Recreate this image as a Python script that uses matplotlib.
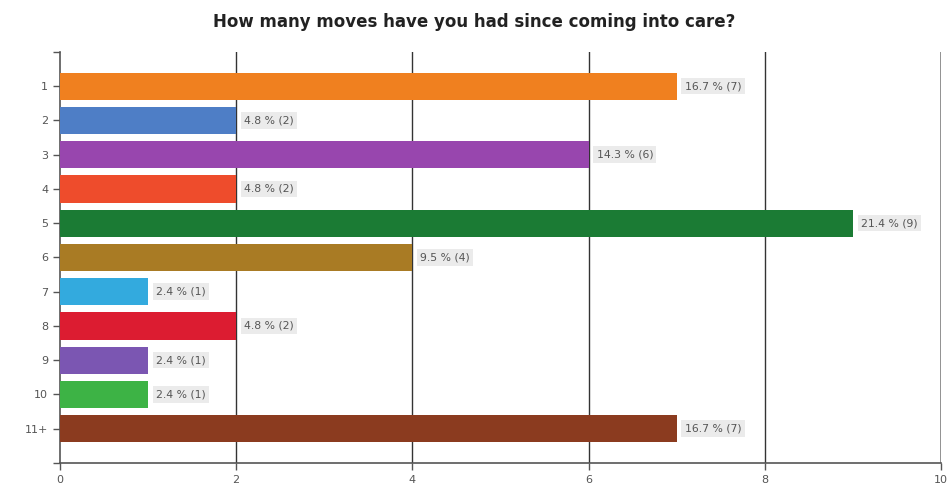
import matplotlib.pyplot as plt
import numpy as np

# Survey responses: number of placement moves
categories = ['1', '2', '3', '4', '5', '6', '7', '8', '9', '10', '11+']
counts = [7, 2, 6, 2, 9, 4, 1, 2, 1, 1, 7]
percents = [16.7, 4.8, 14.3, 4.8, 21.4, 9.5, 2.4, 4.8, 2.4, 2.4, 16.7]
colors = ['#f0801f', '#4e7ec6', '#9846ae', '#ee4c2c', '#1b7b34', '#a97b24',
          '#33aade', '#dc1c31', '#7b56b2', '#3db345', '#8b3b1f']

fig = plt.figure(figsize=(9.49, 4.84), dpi=100)
ax = fig.add_axes([0.0632, 0.0434, 0.9284, 0.8492])

positions = np.arange(1, len(categories) + 1)
ax.barh(positions, counts, height=0.8, color=colors, edgecolor='none', zorder=3)

for pos, cnt, pct in zip(positions, counts, percents):
    ax.text(cnt + 0.09, pos, f"{pct} % ({cnt})", va='center', ha='left',
            fontsize=7.8, color='#555555', zorder=4,
            bbox=dict(boxstyle='square,pad=0.3', facecolor='#ebebeb',
                      edgecolor='none'))

ax.set_xlim(0, 10)
ax.set_ylim(12, 0)
ax.set_xticks([0, 2, 4, 6, 8, 10])
ax.set_xticklabels(['0', '2', '4', '6', '8', '10'])
ax.set_yticks([0] + list(positions) + [12])
ax.set_yticklabels([''] + categories + [''])

for x in [2, 4, 6, 8]:
    ax.axvline(x, color='#333333', linewidth=1.0, zorder=2)
ax.axvline(10, color='#888888', linewidth=2.0, zorder=2)

for side in ['top', 'right']:
    ax.spines[side].set_visible(False)
for side in ['left', 'bottom']:
    ax.spines[side].set_color('#555555')
    ax.spines[side].set_linewidth(1.2)

ax.tick_params(axis='both', colors='#555555', labelcolor='#555555',
               labelsize=8, length=5, width=1)

fig.text(0.5, 0.955, "How many moves have you had since coming into care?",
         ha='center', va='center', fontsize=12, fontweight='bold',
         color='#222222')

fig.savefig('out.png', dpi=100)
